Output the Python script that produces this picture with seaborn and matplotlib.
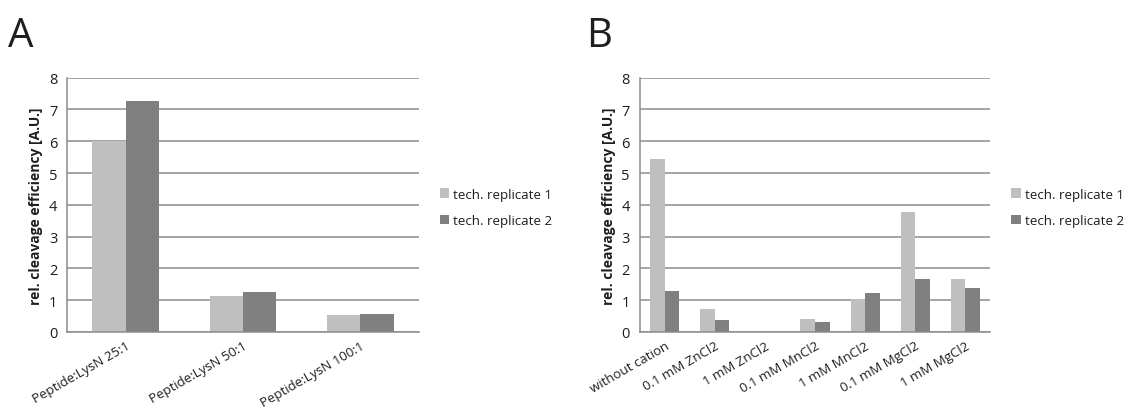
"""Relative cleavage efficiency, two panels (A: peptide:LysN ratio, B: cations)."""

import matplotlib
matplotlib.use("Agg")
import matplotlib.pyplot as plt
import pandas as pd
import seaborn as sns
from matplotlib.ticker import FixedLocator

RATIO_LABELS = ["Peptide:LysN 25:1", "Peptide:LysN 50:1", "Peptide:LysN 100:1"]
RATIO_REP1 = [6.0, 1.12, 0.53]
RATIO_REP2 = [7.28, 1.26, 0.55]

CATION_LABELS = [
    "without cation", "0.1 mM ZnCl2", "1 mM ZnCl2", "0.1 mM MnCl2",
    "1 mM MnCl2", "0.1 mM MgCl2", "1 mM MgCl2",
]
CATION_REP1 = [5.45, 0.72, 0.0, 0.40, 1.05, 3.77, 1.65]
CATION_REP2 = [1.28, 0.38, 0.0, 0.32, 1.22, 1.68, 1.37]

SERIES = ["tech. replicate 1", "tech. replicate 2"]
COLORS = {"tech. replicate 1": "#BFBFBF", "tech. replicate 2": "#808080"}
LINE = "#8C8C8C"
TEXT = "#1E1E1E"


def long_form(labels, rep1, rep2):
    return pd.DataFrame({
        "condition": labels * 2,
        "value": rep1 + rep2,
        "series": [SERIES[0]] * len(labels) + [SERIES[1]] * len(labels),
    })


def draw_panel(fig, rect, df, labels, letter, letter_x, width):
    ax = fig.add_axes(rect)
    sns.barplot(data=df, x="condition", y="value", hue="series", order=labels,
                hue_order=SERIES, palette=COLORS, width=width, gap=0,
                saturation=1, edgecolor="none", linewidth=0, ax=ax)
    n = len(labels)
    ax.set_xlim(-0.5, n - 0.5)
    ax.set_ylim(0, 8)
    ax.set_yticks(range(0, 9))
    ax.yaxis.grid(True, color=LINE, linewidth=1.1)
    ax.set_axisbelow(True)
    for side in ("top", "right"):
        ax.spines[side].set_visible(False)
    for side in ("left", "bottom"):
        ax.spines[side].set_color(LINE)
        ax.spines[side].set_linewidth(1.1)
    ax.tick_params(axis="y", length=4, color=LINE, labelsize=10.5, labelcolor=TEXT, pad=3)
    ax.tick_params(axis="x", which="major", length=0, labelsize=9.5, labelcolor=TEXT, pad=5)
    ax.xaxis.set_minor_locator(FixedLocator([i - 0.5 for i in range(n + 1)]))
    ax.tick_params(axis="x", which="minor", length=4, color=LINE, width=1.1)
    ax.set_xticks(range(n))
    ax.set_xticklabels(labels, rotation=30, ha="right", rotation_mode="anchor")
    ax.set_xlabel("")
    ax.set_ylabel("rel. cleavage efficiency [A.U.]", fontsize=10, fontweight="bold",
                  color=TEXT, labelpad=4)
    ax.legend(frameon=False, loc="center left", bbox_to_anchor=(1.06, 0.49),
              fontsize=9.6, handlelength=0.7, handleheight=0.7, handletextpad=0.3,
              labelspacing=1.0, labelcolor=TEXT, borderpad=0, borderaxespad=0)
    fig.text(letter_x, 0.862, letter, fontsize=29, color=TEXT, va="bottom")
    return ax


def main():
    sns.set_theme(style="white")
    plt.rcParams["font.family"] = ["Open Sans", "DejaVu Sans"]
    fig = plt.figure(figsize=(11.28, 4.10), dpi=100)
    fig.patch.set_facecolor("white")

    draw_panel(fig, [0.0594, 0.188, 0.312, 0.62],
               long_form(RATIO_LABELS, RATIO_REP1, RATIO_REP2), RATIO_LABELS,
               "A", 0.007, 0.57)
    draw_panel(fig, [0.567, 0.188, 0.311, 0.62],
               long_form(CATION_LABELS, CATION_REP1, CATION_REP2), CATION_LABELS,
               "B", 0.520, 0.58)

    fig.savefig("out.png", dpi=100)
    plt.close(fig)


if __name__ == "__main__":
    main()
